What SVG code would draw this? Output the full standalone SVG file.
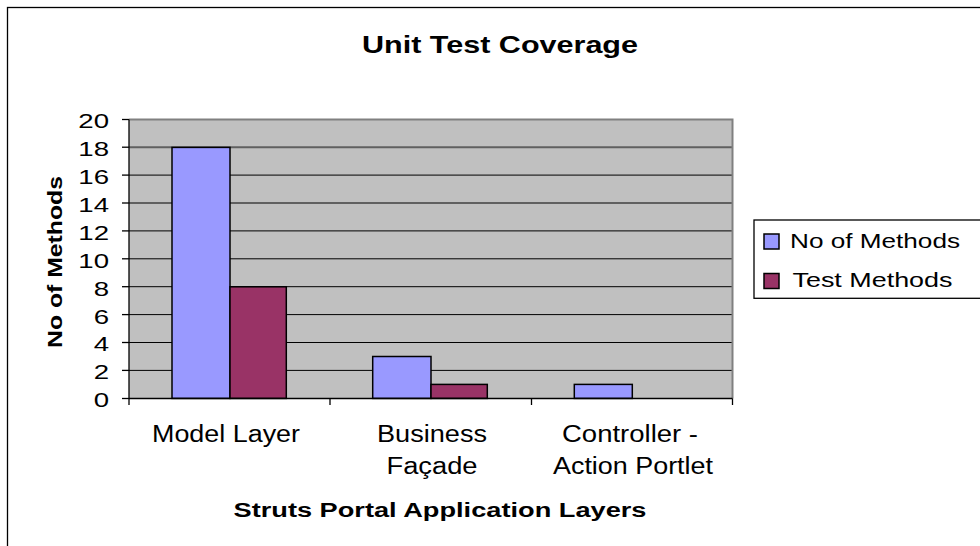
<svg xmlns="http://www.w3.org/2000/svg" width="980" height="546" viewBox="0 0 980 546">
  <style>
    text { font-family: "Liberation Sans", Arial, sans-serif; fill: #000; }
    .title { font-size: 24px; font-weight: bold; }
    .axtitle { font-size: 20px; font-weight: bold; }
    .tick { font-size: 20px; }
    .cat { font-size: 23px; }
    .leg { font-size: 20px; }
    .grid { stroke: #000; stroke-width: 1; }
    .bar { stroke: #000; stroke-width: 1.5; }
    .s1 { fill: #9999FF; }
    .s2 { fill: #993366; }
  </style>

  <!-- chart frame -->
  <rect x="0" y="0" width="980" height="546" fill="#fff"/>
  <rect x="7.5" y="7.5" width="990" height="560" fill="none" stroke="#000" stroke-width="1.3"/>

  <!-- title -->
  <g id="title">
    <text class="title" x="500" y="53" text-anchor="middle" textLength="276" lengthAdjust="spacingAndGlyphs">Unit Test Coverage</text>
  </g>

  <!-- plot area -->
  <g id="plot">
    <rect x="129" y="119.5" width="603.5" height="279" fill="#C0C0C0"/>
    <g class="grid">
      <line x1="129" y1="370.4" x2="732.5" y2="370.4"/>
      <line x1="129" y1="342.5" x2="732.5" y2="342.5"/>
      <line x1="129" y1="314.6" x2="732.5" y2="314.6"/>
      <line x1="129" y1="286.7" x2="732.5" y2="286.7"/>
      <line x1="129" y1="258.8" x2="732.5" y2="258.8"/>
      <line x1="129" y1="230.9" x2="732.5" y2="230.9"/>
      <line x1="129" y1="203.0" x2="732.5" y2="203.0"/>
      <line x1="129" y1="175.1" x2="732.5" y2="175.1"/>
      <line x1="129" y1="147.2" x2="732.5" y2="147.2" stroke="#606060" stroke-width="2"/>
    </g>
    <!-- plot border (top/right) -->
    <polyline points="129,119.5 732.5,119.5 732.5,398.5" fill="none" stroke="#808080" stroke-width="2"/>
  </g>

  <!-- series bars -->
  <g id="bars">
    <rect class="bar s1" x="172" y="147.4" width="58" height="251"/>
    <rect class="bar s2" x="230" y="286.8" width="56.3" height="111.6"/>
    <rect class="bar s1" x="372.7" y="356.5" width="58.3" height="41.9"/>
    <rect class="bar s2" x="431" y="384.4" width="56.3" height="14"/>
    <rect class="bar s1" x="574.3" y="384.4" width="58" height="14"/>
  </g>

  <!-- axes -->
  <g id="axes" stroke="#000" stroke-width="1.3">
    <line x1="129" y1="119.5" x2="129" y2="399"/>
    <line x1="129" y1="398.5" x2="732.5" y2="398.5"/>
    <line x1="122" y1="398.5" x2="129" y2="398.5"/>
    <line x1="122" y1="370.4" x2="129" y2="370.4"/>
    <line x1="122" y1="342.5" x2="129" y2="342.5"/>
    <line x1="122" y1="314.6" x2="129" y2="314.6"/>
    <line x1="122" y1="286.7" x2="129" y2="286.7"/>
    <line x1="122" y1="258.8" x2="129" y2="258.8"/>
    <line x1="122" y1="230.9" x2="129" y2="230.9"/>
    <line x1="122" y1="203.0" x2="129" y2="203.0"/>
    <line x1="122" y1="175.1" x2="129" y2="175.1"/>
    <line x1="122" y1="147.2" x2="129" y2="147.2"/>
    <line x1="122" y1="119.5" x2="129" y2="119.5"/>
    <line x1="129" y1="398.5" x2="129" y2="405"/>
    <line x1="330" y1="398.5" x2="330" y2="405"/>
    <line x1="531.5" y1="398.5" x2="531.5" y2="405"/>
    <line x1="732.5" y1="398.5" x2="732.5" y2="405"/>
  </g>

  <!-- value axis labels -->
  <g id="y-labels" transform="translate(109,0) scale(1.38,1)">
    <text class="tick" x="0" y="407" text-anchor="end">0</text>
    <text class="tick" x="0" y="379.4" text-anchor="end">2</text>
    <text class="tick" x="0" y="351.5" text-anchor="end">4</text>
    <text class="tick" x="0" y="323.6" text-anchor="end">6</text>
    <text class="tick" x="0" y="295.7" text-anchor="end">8</text>
    <text class="tick" x="0" y="267.8" text-anchor="end">10</text>
    <text class="tick" x="0" y="239.9" text-anchor="end">12</text>
    <text class="tick" x="0" y="212" text-anchor="end">14</text>
    <text class="tick" x="0" y="184.1" text-anchor="end">16</text>
    <text class="tick" x="0" y="156.2" text-anchor="end">18</text>
    <text class="tick" x="0" y="128.5" text-anchor="end">20</text>
  </g>

  <!-- category labels -->
  <g id="x-labels">
    <text class="cat" x="226" y="441.7" text-anchor="middle" textLength="148" lengthAdjust="spacingAndGlyphs">Model Layer</text>
    <text class="cat" x="432" y="441.7" text-anchor="middle" textLength="110" lengthAdjust="spacingAndGlyphs">Business</text>
    <text class="cat" x="432" y="474.3" text-anchor="middle" textLength="91" lengthAdjust="spacingAndGlyphs">Façade</text>
    <text class="cat" x="630" y="441.7" text-anchor="middle" textLength="136" lengthAdjust="spacingAndGlyphs">Controller -</text>
    <text class="cat" x="633" y="474.3" text-anchor="middle" textLength="160" lengthAdjust="spacingAndGlyphs">Action Portlet</text>
  </g>

  <!-- axis titles -->
  <g id="x-title">
    <text class="axtitle" x="440" y="516.7" text-anchor="middle" textLength="413" lengthAdjust="spacingAndGlyphs">Struts Portal Application Layers</text>
  </g>
  <g id="y-title">
    <text class="axtitle" transform="translate(62,262) rotate(-90)" x="0" y="0" text-anchor="middle" font-size="24" textLength="172" lengthAdjust="spacingAndGlyphs">No of Methods</text>
  </g>

  <!-- legend -->
  <g id="legend">
    <rect x="754" y="220" width="240" height="78.3" fill="#fff" stroke="#000" stroke-width="1.3"/>
    <rect class="bar s1" x="764" y="234" width="15" height="15" stroke-width="1.3"/>
    <text class="leg" x="790" y="248.3" textLength="170" lengthAdjust="spacingAndGlyphs">No of Methods</text>
    <rect class="bar s2" x="764" y="273.5" width="15" height="15" stroke-width="1.3"/>
    <text class="leg" x="792.5" y="286.7" textLength="160" lengthAdjust="spacingAndGlyphs">Test Methods</text>
  </g>
</svg>
